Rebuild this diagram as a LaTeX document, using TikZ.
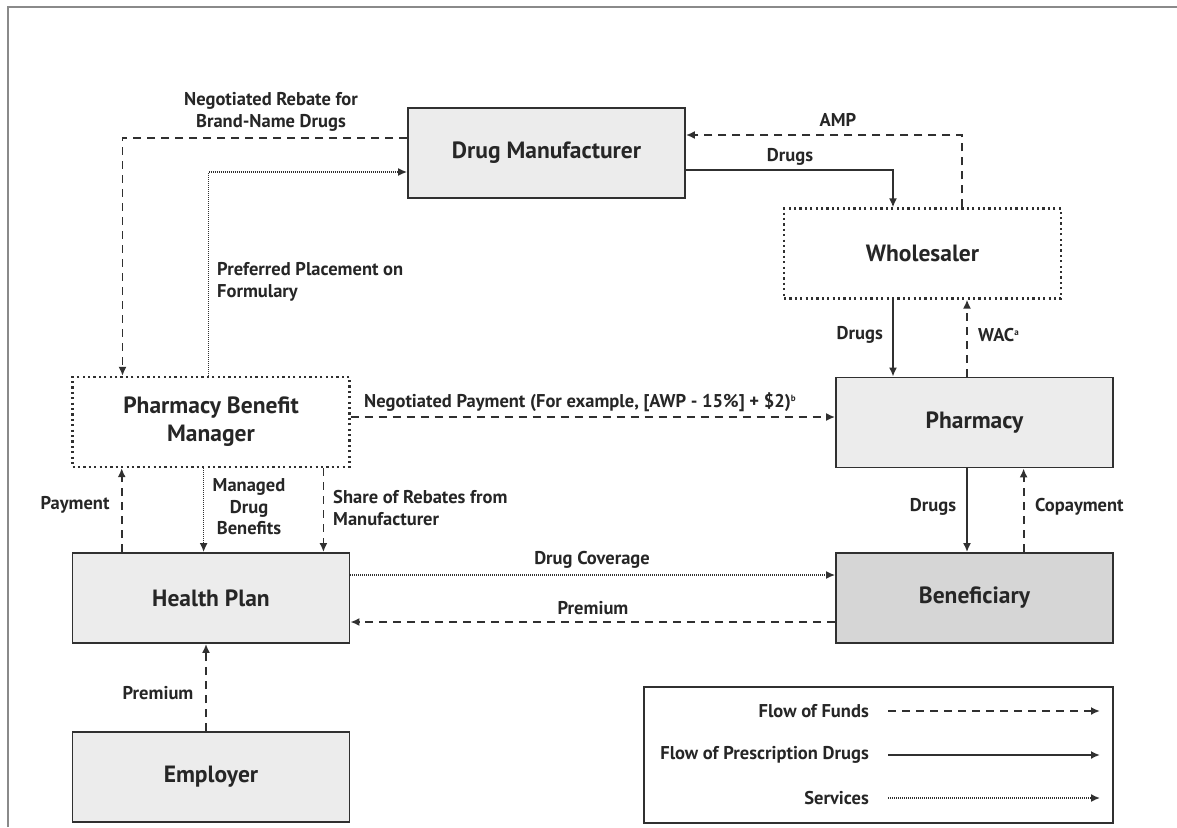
\documentclass[tikz,border=0pt]{standalone}
\usepackage{fontspec}
\setmainfont{PT Sans}
\usetikzlibrary{arrows.meta,calc}
\definecolor{boxfill}{HTML}{ECECEC}
\definecolor{benfill}{HTML}{D6D6D6}
\definecolor{boxline}{HTML}{303030}
\definecolor{txt}{HTML}{262626}
\definecolor{frame}{HTML}{8A8A8A}
\newcommand{\boxfont}{\fontsize{23.5}{28}\selectfont\bfseries}
\newcommand{\lblfont}{\fontsize{18.5}{21.5}\selectfont\bfseries}
\tikzset{
  box/.style={draw=boxline, line width=1.8pt, fill=boxfill, minimum width=277pt, minimum height=90pt, inner sep=0pt, font=\boxfont, text=txt, align=center},
  dbox/.style={box, fill=white, line width=2.2pt, dash pattern=on 2.2pt off 3.2pt},
  tip/.style={-{Latex[length=9pt,width=8pt]}},
  funds/.style={draw=boxline, line width=1.8pt, dash pattern=on 8pt off 6pt, tip},
  drugs/.style={draw=boxline, line width=1.8pt, tip},
  serv/.style={draw=boxline, line width=1.6pt, dash pattern=on 1pt off 1pt, tip},
  lbl/.style={font=\lblfont, text=txt, inner sep=0pt},
}
\begin{document}
\begin{tikzpicture}[x=1pt,y=-1pt]
\useasboundingbox (0,0) rectangle (1177,827);
% frame
\draw[frame, line width=2.4pt] (8,827) -- (8,7) -- (1177,7);
% boxes
\node[box] (dm) at (546.5,153) {Drug Manufacturer};
\node[dbox] (wh) at (922.5,253.5) {Wholesaler};
\node[box] (ph) at (974.5,422.5) {Pharmacy};
\node[dbox, align=center] (pbm) at (211,422) {Pharmacy Benefit\\Manager};
\node[box] (hp) at (211,598) {Health Plan};
\node[box, fill=benfill] (ben) at (974.5,598) {Beneficiary};
\node[box] (emp) at (211,777) {Employer};
\node[draw=boxline, line width=1.8pt, minimum width=469pt, minimum height=136pt, inner sep=0pt] (leg) at (878.5,755) {};
% helper coordinates
\coordinate (c1) at (122.5,138);
\coordinate (c2) at (208.6,172);
\coordinate (c3) at (962,135);
\coordinate (c4) at (893,170);
\coordinate (c5) at (893,330);
\coordinate (c6) at (967,330);
\coordinate (c7) at (600,417);
\coordinate (c8) at (967,510);
\coordinate (c9) at (1023.6,510);
\coordinate (c10) at (121.7,510);
\coordinate (c11) at (203.6,510);
\coordinate (c12) at (323.4,510);
\coordinate (c13) at (600,575);
\coordinate (c14) at (600,622);
\coordinate (c15) at (206,690);
% connectors
\draw[funds] (c1 -| dm.west) -- (c1) -- (c1 |- pbm.north);
\draw[serv] (c2 |- pbm.north) -- (c2) -- (c2 -| dm.west);
\draw[funds] (c3 |- wh.north) -- (c3) -- (c3 -| dm.east);
\draw[drugs] (c4 -| dm.east) -- (c4) -- (c4 |- wh.north);
\draw[drugs] (c5 |- wh.south) -- (c5 |- ph.north);
\draw[funds] (c6 |- ph.north) -- (c6 |- wh.south);
\draw[funds] (c7 -| pbm.east) -- (c7 -| ph.west);
\draw[drugs] (c8 |- ph.south) -- (c8 |- ben.north);
\draw[funds] (c9 |- ben.north) -- (c9 |- ph.south);
\draw[funds] (c10 |- hp.north) -- (c10 |- pbm.south);
\draw[serv] (c11 |- pbm.south) -- (c11 |- hp.north);
\draw[funds] (c12 |- pbm.south) -- (c12 |- hp.north);
\draw[serv] (c13 -| hp.east) -- (c13 -| ben.west);
\draw[funds] (c14 -| ben.west) -- (c14 -| hp.east);
\draw[funds] (c15 |- emp.north) -- (c15 |- hp.south);
% labels
\node[lbl, align=center] (l1) at (271,112) {Negotiated Rebate for\\Brand-Name Drugs};
\node[lbl, align=left, anchor=west] (l2) at (217,282) {Preferred Placement on\\Formulary};
\node[lbl] (l3) at (838,120) {AMP};
\node[lbl] (l4) at (790,157) {Drugs};
\node[lbl, anchor=east] (l5) at (883,335) {Drugs};
\node[lbl, anchor=west] (l6) at (978,335) {WAC\textsuperscript{\fontsize{9}{9}\selectfont a}};
\node[lbl, anchor=west] (l7) at (364,402) {Negotiated Payment (For example, [AWP - 15\%] + \$2)\textsuperscript{\fontsize{9}{9}\selectfont b}};
\node[lbl] (l8) at (933,507) {Drugs};
\node[lbl, anchor=west] (l9) at (1035,507) {Copayment};
\node[lbl] (l10) at (75,505) {Payment};
\node[lbl, align=center] (l11) at (249,507) {Managed\\Drug\\Benefits};
\node[lbl, align=left, anchor=west] (l12) at (333,508) {Share of Rebates from\\Manufacturer};
\node[lbl] (l13) at (592,560) {Drug Coverage};
\node[lbl] (l14) at (593,608) {Premium};
\node[lbl] (l15) at (158,693) {Premium};
% legend
\node[lbl, anchor=east] (f1) at (869,711) {Flow of Funds};
\node[lbl, anchor=east] (f2) at (869,755) {Flow of Prescription Drugs};
\node[lbl, anchor=east] (f3) at (869,798) {Services};
\coordinate (e1) at (1100,711);
\coordinate (e2) at (1100,755);
\coordinate (e3) at (1100,798);
\draw[funds] ([xshift=19pt]f1.east) -- (e1);
\draw[drugs] ([xshift=19pt]f2.east) -- (e2);
\draw[serv] ([xshift=19pt]f3.east) -- (e3);
\end{tikzpicture}
\end{document}
